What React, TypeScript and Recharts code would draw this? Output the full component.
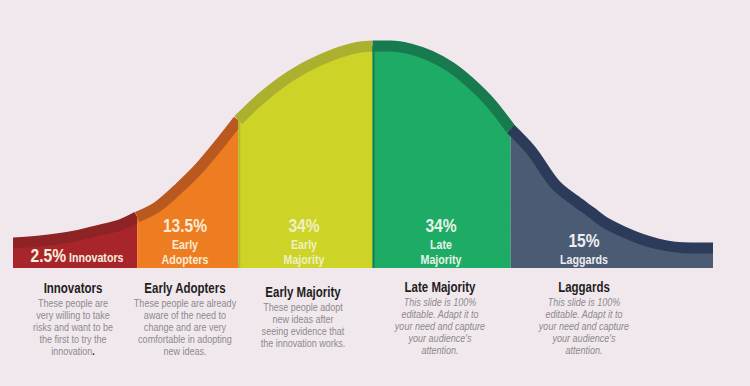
import React from "react";
import { AreaChart, Area, XAxis, YAxis, ReferenceLine } from "recharts";

// bell curve: x position along the curve, height of the band centre
const curveX = [0, 27, 57, 87, 107, 124, 144, 167, 187, 207, 225, 247, 267, 287, 307, 327, 347, 359, 377, 397, 417, 437, 457, 477, 497, 517, 542, 562, 577, 592, 610, 627, 644, 677, 699];
const curveY = [25, 27, 31, 38, 43, 51, 61, 81, 101, 125, 148, 169, 185, 198, 208, 216, 221, 222, 222, 219, 212, 201, 185, 165, 139, 118, 83, 67, 56, 45, 36, 29, 24, 20, 20];

// segment boundaries on the same x scale
const segmentStarts = [0, 124, 225, 359, 497];
const segmentEnds = [124, 225, 359, 497, 699];
const segmentKeys = ["innovators", "adopters", "earlyMajority", "lateMajority", "laggards"];
const segmentShares = ["2.5%", "13.5%", "34%", "34%", "15%"];
const segmentLabels = [["Innovators"], ["Early", "Adopters"], ["Early", "Majority"], ["Late", "Majority"], ["Laggards"]];
const headings = ["Innovators", "Early Adopters", "Early Majority", "Late Majority", "Laggards"];
const descriptions = [
  ["These people are", "very willing to take", "risks and want to be", "the first to try the", "innovation"],
  ["These people are already", "aware of the need to", "change and are very", "comfortable  in adopting", "new ideas."],
  ["These people adopt", "new ideas after", "seeing evidence that", "the innovation  works."],
  ["This slide is 100%", "editable. Adapt it to", "your need and capture", "your audience's", "attention."],
  ["This slide is 100%", "editable. Adapt it to", "your need and capture", "your audience's", "attention."],
];

const fills = ["#A8262B", "#EE7D21", "#CED327", "#1DAB66", "#4B5B73"];
const bands = ["#8E2326", "#B9591F", "#ABB02E", "#187A4F", "#2D3B5B"];
const edges = ["#8E2326", "#B9591F", "#B5BA2A", "#168048", "#3C4A60"];
const textColors = ["#F7EEDD", "#F8EBD6", "#EEF0C4", "#E6F3E6", "#EDEEF2"];

const FONT = "'Liberation Sans', Arial, sans-serif";
const NARROW = "scaleX(0.82)";

const data = curveX.map((x, i) => {
  const row: any = { x };
  segmentKeys.forEach((key, s) => {
    row[key] = x >= segmentStarts[s] && x <= segmentEnds[s] ? curveY[i] : null;
  });
  return row;
});

const LEFT = 13;
const TOP = 40;
const PLOT_H = 228;

// label anchors (centre x in page px, top of first line)
const labelCentres = [LEFT + 64, 185, 304, 441, 584];
const labelTops = [247, 216, 216, 216, 231];
const headingCentres = [73, 185, 303, 440, 584];
const headingTops = [280, 280, 284, 279, 279];

export default function App() {
  return (
    <div
      style={{
        position: "absolute",
        left: 0,
        top: 0,
        width: 750,
        height: 386,
        background: "#F1E8EE",
        overflow: "hidden",
        fontFamily: FONT,
      }}
    >
      <div style={{ position: "absolute", left: LEFT, top: TOP }}>
        <AreaChart width={700} height={PLOT_H} data={data} margin={{ top: 0, right: 0, bottom: 0, left: 0 }}>
          <XAxis dataKey="x" type="number" domain={[0, 699]} hide />
          <YAxis type="number" domain={[0, 228]} hide />
          {segmentKeys.map((key, s) => (
            <Area
              key={key}
              dataKey={key}
              type="monotone"
              fill={fills[s]}
              fillOpacity={1}
              stroke={bands[s]}
              strokeWidth={11}
              connectNulls={false}
              isAnimationActive={false}
              dot={false}
              activeDot={false}
            />
          ))}
          {/* thin darker edge where each later segment starts */}
          {segmentStarts.slice(2, 4).map((x, k) => {
            const s = k + 2;
            const top = curveY[curveX.indexOf(x)];
            return (
              <ReferenceLine
                key={x}
                segment={[
                  { x: x + 1, y: 0 },
                  { x: x + 1, y: top },
                ]}
                stroke={edges[s]}
                strokeWidth={2}
                ifOverflow="visible"
              />
            );
          })}
        </AreaChart>
      </div>

      {/* labels inside the segments */}
      {segmentKeys.map((key, s) => {
        const box: React.CSSProperties = {
          position: "absolute",
          left: labelCentres[s] - 70,
          width: 140,
          top: labelTops[s],
          textAlign: "center",
          color: textColors[s],
          fontWeight: "bold",
          whiteSpace: "nowrap",
          transform: NARROW,
        };
        if (s === 0) {
          return (
            <div key={key} style={{ ...box, lineHeight: "18px" }}>
              <span style={{ fontSize: 19 }}>{segmentShares[s]}</span>
              <span style={{ fontSize: 13 }}> {segmentLabels[s][0]}</span>
            </div>
          );
        }
        return (
          <div key={key} style={box}>
            <div style={{ fontSize: 19, lineHeight: "20px" }}>{segmentShares[s]}</div>
            {segmentLabels[s].map((l, i) => (
              <div key={i} style={{ fontSize: 13, lineHeight: "15px", marginTop: i === 0 ? 1 : 0 }}>
                {l}
              </div>
            ))}
          </div>
        );
      })}

      {/* descriptions under the curve */}
      {headings.map((h, s) => (
        <div
          key={h}
          style={{
            position: "absolute",
            left: headingCentres[s] - 80,
            width: 160,
            top: headingTops[s],
            textAlign: "center",
            whiteSpace: "nowrap",
            transform: NARROW,
          }}
        >
          <div style={{ fontSize: 14, fontWeight: "bold", color: "#1E1E22", lineHeight: "17px" }}>{h}</div>
          {descriptions[s].map((line, i) => (
            <div
              key={i}
              style={{
                fontSize: 11,
                lineHeight: "12px",
                color: "#8C8A8C",
                fontStyle: s >= 3 ? "italic" : "normal",
              }}
            >
              {line}
              {s === 0 && i === descriptions[s].length - 1 ? (
                <span style={{ color: "#222", fontWeight: "bold" }}>.</span>
              ) : null}
            </div>
          ))}
        </div>
      ))}
    </div>
  );
}
